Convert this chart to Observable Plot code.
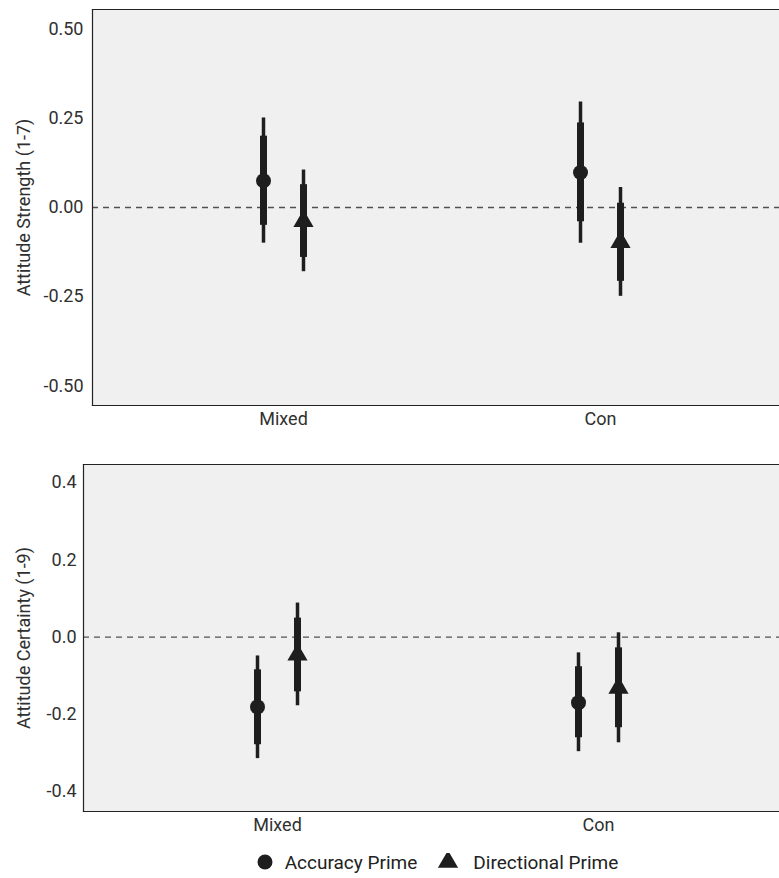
<!DOCTYPE html>
<html>
<head>
<meta charset="utf-8">
<script src="https://cdn.jsdelivr.net/npm/d3@7"></script>
<script src="https://cdn.jsdelivr.net/npm/@observablehq/plot@0.6"></script>
<style>
  html, body { margin: 0; padding: 0; background: #fff; }
  #wrap { width: 779px; height: 878px; overflow: hidden; position: relative; font-family: Roboto, "Liberation Sans", sans-serif; }
  #legend { position: absolute; left: 0; top: 848px; width: 874px; height: 28px; display: flex; justify-content: center; align-items: center; font-size: 19px; color: #222; }
  .item { display: flex; align-items: center; }
  .item + .item { margin-left: 20px; }
  .item svg { margin-right: 11px; }
  .item + .item svg { margin-right: 14px; }
</style>
</head>
<body>
<div id="wrap"></div>
<script>
// ---- data ----
const groups = ["Mixed", "Con"];
const primes = ["Accuracy Prime", "Directional Prime"];
// order: Mixed-Accuracy, Mixed-Directional, Con-Accuracy, Con-Directional
const rowGroup = ["Mixed", "Mixed", "Con", "Con"];
const rowPrime = ["Accuracy Prime", "Directional Prime", "Accuracy Prime", "Directional Prime"];

const strengthEst    = [0.075, -0.038, 0.098, -0.097];
const strengthInnerLo = [-0.050, -0.140, -0.040, -0.207];
const strengthInnerHi = [0.200, 0.064, 0.237, 0.012];
const strengthOuterLo = [-0.100, -0.180, -0.100, -0.249];
const strengthOuterHi = [0.251, 0.105, 0.296, 0.056];
const strengthTicks = [-0.5, -0.25, 0, 0.25, 0.5];

const certaintyEst    = [-0.181, -0.046, -0.170, -0.132];
const certaintyInnerLo = [-0.279, -0.142, -0.261, -0.235];
const certaintyInnerHi = [-0.085, 0.049, -0.077, -0.028];
const certaintyOuterLo = [-0.315, -0.178, -0.297, -0.274];
const certaintyOuterHi = [-0.049, 0.088, -0.041, 0.011];
const certaintyTicks = [-0.4, -0.2, 0, 0.2, 0.4];

const dark = "#1e1e1e";
const symbolOf = {"Accuracy Prime": "circle", "Directional Prime": "triangle"};
const dodgeOf = {"Accuracy Prime": -20, "Directional Prime": 20};

function rows(est, ilo, ihi, olo, ohi) {
  return est.map((e, i) => ({group: rowGroup[i], prime: rowPrime[i], est: e, ilo: ilo[i], ihi: ihi[i], olo: olo[i], ohi: ohi[i]}));
}

function panel({data, ticks, fmt, domain, label, height, marginTop, marginBottom, marginLeft, tickPad}) {
  const marks = [
    Plot.frame({fill: "#f0f0f0", stroke: null}),
    Plot.ruleY([0], {stroke: "#505050", strokeWidth: 1.3, strokeDasharray: "6,5"})
  ];
  for (const p of primes) {
    const d = data.filter(r => r.prime === p);
    const dx = dodgeOf[p];
    marks.push(Plot.ruleX(d, {x: "group", y1: "olo", y2: "ohi", stroke: dark, strokeWidth: 3.5, dx}));
    marks.push(Plot.ruleX(d, {x: "group", y1: "ilo", y2: "ihi", stroke: dark, strokeWidth: 7, dx}));
    marks.push(Plot.dot(d, {x: "group", y: "est", symbol: () => symbolOf[p], r: 7.5, fill: dark, stroke: null, dx}));
  }
  marks.push(Plot.frame({anchor: "left", stroke: "#222", strokeWidth: 1.2}));
  marks.push(Plot.frame({anchor: "top", stroke: "#222", strokeWidth: 1.2}));
  marks.push(Plot.frame({anchor: "bottom", stroke: "#222", strokeWidth: 1.2}));
  marks.push(Plot.axisY({ticks, tickFormat: fmt, tickSize: 0, tickPadding: tickPad, label, labelAnchor: "center", labelArrow: false, labelOffset: marginLeft - 17, fill: "#303030"}));
  marks.push(Plot.axisX({tickSize: 0, tickPadding: 7, label: null, fill: "#303030"}));
  return Plot.plot({
    width: 779, height, marginTop, marginBottom, marginLeft, marginRight: -12,
    style: {fontFamily: "Roboto, 'Liberation Sans', sans-serif", fontSize: "18px", background: "transparent", overflow: "visible"},
    x: {type: "point", domain: groups, padding: 0.6},
    y: {domain, ticks},
    symbol: {type: "identity"},
    marks
  });
}

const topChart = panel({
  data: rows(strengthEst, strengthInnerLo, strengthInnerHi, strengthOuterLo, strengthOuterHi),
  ticks: strengthTicks, fmt: d => d.toFixed(2), domain: [-0.555, 0.555],
  label: "Attitude Strength (1-7)", height: 440, marginTop: 9, marginBottom: 35, marginLeft: 92, tickPad: 9
});
const bottomChart = panel({
  data: rows(certaintyEst, certaintyInnerLo, certaintyInnerHi, certaintyOuterLo, certaintyOuterHi),
  ticks: certaintyTicks, fmt: d => d.toFixed(1), domain: [-0.452, 0.447],
  label: "Attitude Certainty (1-9)", height: 400, marginTop: 24, marginBottom: 29, marginLeft: 83, tickPad: 7
});
const wrap = document.getElementById("wrap");
topChart.style.display = "block"; bottomChart.style.display = "block";
wrap.appendChild(topChart);
wrap.appendChild(bottomChart);

// legend
const legend = document.createElement("div");
legend.id = "legend";
for (const p of primes) {
  const item = document.createElement("div");
  item.className = "item";
  const sym = p === "Accuracy Prime"
    ? `<svg width="18" height="18" viewBox="-9 -9 18 18"><circle r="7.5" fill="${dark}"/></svg>`
    : `<svg width="22" height="18" viewBox="-11 -9 22 18"><path d="${d3.symbol(d3.symbolTriangle, Math.PI * 7.5 * 7.5)()}" fill="${dark}"/></svg>`;
  item.innerHTML = sym + `<span>${p}</span>`;
  legend.appendChild(item);
}
wrap.appendChild(legend);
</script>
</body>
</html>
